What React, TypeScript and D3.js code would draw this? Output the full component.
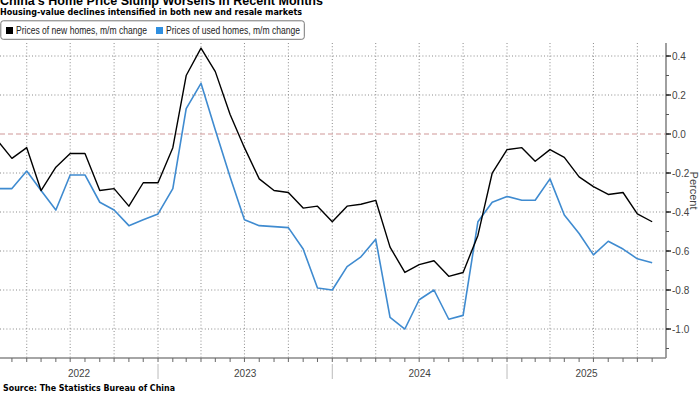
import React, { useEffect } from "react";
import * as d3 from "d3";

// monthly m/m change, Jan 2022 .. Oct 2025
const months = [
  "2022-01", "2022-02", "2022-03", "2022-04", "2022-05", "2022-06", "2022-07", "2022-08", "2022-09", "2022-10", "2022-11", "2022-12",
  "2023-01", "2023-02", "2023-03", "2023-04", "2023-05", "2023-06", "2023-07", "2023-08", "2023-09", "2023-10", "2023-11", "2023-12",
  "2024-01", "2024-02", "2024-03", "2024-04", "2024-05", "2024-06", "2024-07", "2024-08", "2024-09", "2024-10", "2024-11", "2024-12",
  "2025-01", "2025-02", "2025-03", "2025-04", "2025-05", "2025-06", "2025-07", "2025-08", "2025-09", "2025-10",
];
const newHomes = [
  -0.04, -0.125, -0.07, -0.29, -0.17, -0.10, -0.10, -0.29, -0.28, -0.37, -0.25, -0.25,
  -0.07, 0.30, 0.44, 0.32, 0.10, -0.07, -0.23, -0.29, -0.30, -0.38, -0.37, -0.45,
  -0.37, -0.36, -0.34, -0.58, -0.71, -0.67, -0.65, -0.73, -0.71, -0.52, -0.20, -0.08,
  -0.07, -0.14, -0.08, -0.12, -0.22, -0.27, -0.31, -0.30, -0.41, -0.45,
];
const usedHomes = [
  -0.28, -0.28, -0.19, -0.29, -0.39, -0.21, -0.21, -0.35, -0.39, -0.47, -0.44, -0.41,
  -0.28, 0.13, 0.26, 0.02, -0.22, -0.44, -0.47, -0.475, -0.48, -0.59, -0.79, -0.80,
  -0.68, -0.63, -0.54, -0.94, -1.00, -0.85, -0.80, -0.95, -0.93, -0.45, -0.35, -0.32,
  -0.34, -0.34, -0.23, -0.415, -0.51, -0.62, -0.55, -0.59, -0.64, -0.66,
];
const yTicks = [0.4, 0.2, 0.0, -0.2, -0.4, -0.6, -0.8, -1.0];
const years = [2022, 2023, 2024, 2025];

const BLACK = "#000";
const BLUE = "#3f8bd0";
const FONT = "'Liberation Sans Narrow', 'Liberation Sans', Arial, sans-serif";

export default function App() {
  useEffect(() => {
    document.body.style.margin = "0";
  }, []);

  const W = 700, H = 394;
  const left = 0, right = 666, top = 43, bottom = 358;

  // data plotted at month end
  const monthEnd = (s: string) => {
    const [yy, mm] = s.split("-").map(Number);
    return new Date(yy, mm, 1);
  };

  const x = d3.scaleTime()
    .domain([new Date(2022, 1, 4), new Date(2025, 10, 30)])
    .range([left, right]);
  const y = d3.scaleLinear().domain([-1.1487, 0.4667]).range([bottom, top]);

  const line = d3.line<number>()
    .x((d, i) => x(monthEnd(months[i])))
    .y(d => y(d));

  const [d0, d1] = x.domain();
  const quarterLines = d3.timeMonth.every(3)!.range(d0, d1);
  const monthTicks = d3.timeMonth.range(d0, d1);
  const yearStarts = d3.timeYear.range(d0, d1);
  const minorY = d3.range(-11, 5).map(v => v / 10);

  const fmt = (v: number) => (v === 0 ? "0.0" : d3.format(".1f")(v).replace("−", "-"));

  return (
    <svg width={W} height={H} style={{ display: "block", background: "#fff" }}>
      <defs>
        <clipPath id="plot">
          <rect x={left} y={top - 20} width={right - left} height={bottom - top + 20} />
        </clipPath>
      </defs>

      {/* header, title cropped at the top as in the source image */}
      <text x={0} y={5} fontFamily="'Liberation Sans', Arial, sans-serif" fontWeight="bold" fontSize={13.5}
        textLength={323} lengthAdjust="spacingAndGlyphs">China's Home Price Slump Worsens In Recent Months</text>
      <text x={0} y={14.5} fontFamily="'DejaVu Sans', Verdana, sans-serif" fontWeight="bold" fontSize={8.5}
        textLength={302} lengthAdjust="spacingAndGlyphs">Housing-value declines intensified in both new and resale markets</text>

      {/* gridlines */}
      {quarterLines.map((d, i) => (
        <line key={"vg" + i} x1={x(d)} x2={x(d)} y1={top} y2={bottom}
          stroke="#8a8a8a" strokeWidth={1} strokeDasharray="1,2.2" />
      ))}
      {yTicks.filter(v => v !== 0).map(v => (
        <line key={"hg" + v} x1={left} x2={right} y1={y(v)} y2={y(v)}
          stroke="#8a8a8a" strokeWidth={1} strokeDasharray="1,2.2" />
      ))}
      <line x1={left} x2={right} y1={y(0)} y2={y(0)} stroke="#d09898" strokeWidth={1.2} strokeDasharray="5,3" />

      {/* series */}
      <g clipPath="url(#plot)">
        <path d={line(usedHomes) || ""} fill="none" stroke={BLUE} strokeWidth={1.6} strokeLinejoin="round" />
        <path d={line(newHomes) || ""} fill="none" stroke={BLACK} strokeWidth={1.4} strokeLinejoin="round" />
      </g>

      {/* right axis */}
      <line x1={right} x2={right} y1={top} y2={bottom} stroke="#888" strokeWidth={1.6} />
      {minorY.map(v => (
        <line key={"my" + v} x1={right} x2={right + 3} y1={y(v)} y2={y(v)} stroke="#555" strokeWidth={1} />
      ))}
      {yTicks.map(v => (
        <g key={"yt" + v}>
          <line x1={right} x2={right + 5} y1={y(v)} y2={y(v)} stroke="#222" strokeWidth={1.4} />
          <text x={right + 6} y={y(v)} dy="0.35em" fontFamily={FONT} fontSize={10} fill="#444">{fmt(v)}</text>
        </g>
      ))}
      <text transform={`translate(690,${y(-0.29)}) rotate(90)`} textAnchor="middle" fontFamily={FONT}
        fontSize={11} fill="#444">Percent</text>

      {/* bottom axis */}
      <line x1={left} x2={right} y1={bottom} y2={bottom} stroke="#888" strokeWidth={1.4} />
      {monthTicks.map((d, i) => (
        <line key={"mt" + i} x1={x(d)} x2={x(d)} y1={bottom} y2={bottom + 4} stroke="#666" strokeWidth={1} />
      ))}
      {yearStarts.map((d, i) => (
        <line key={"ys" + i} x1={x(d)} x2={x(d)} y1={bottom + 6} y2={bottom + 21} stroke="#bbb" strokeWidth={1} />
      ))}
      {years.map(yr => {
        const a = Math.max(left, x(new Date(yr, 0, 1)));
        const b = Math.min(right, x(new Date(yr + 1, 0, 1)));
        return (
          <text key={"yl" + yr} x={(a + b) / 2} y={bottom + 19} textAnchor="middle" fontFamily={FONT}
            fontSize={10} fill="#444">{yr}</text>
        );
      })}

      {/* legend */}
      <rect x={0.8} y={20.8} width={303.5} height={18.5} rx={2.5} fill="#fff" stroke="#777" strokeWidth={1} />
      <rect x={6} y={27} width={7} height={7} fill={BLACK} />
      <text x={16} y={34} fontFamily={FONT} fontSize={10.5} fill="#222" textLength={131}
        lengthAdjust="spacingAndGlyphs">Prices of new homes, m/m change</text>
      <rect x={156} y={27} width={7} height={7} fill="#2f8fe0" />
      <text x={166} y={34} fontFamily={FONT} fontSize={10.5} fill="#222" textLength={134}
        lengthAdjust="spacingAndGlyphs">Prices of used homes, m/m change</text>

      {/* source */}
      <text x={3} y={391} fontFamily="'DejaVu Sans', Verdana, sans-serif" fontWeight="bold" fontSize={8.5}
        textLength={172} lengthAdjust="spacingAndGlyphs">Source: The Statistics Bureau of China</text>
    </svg>
  );
}
